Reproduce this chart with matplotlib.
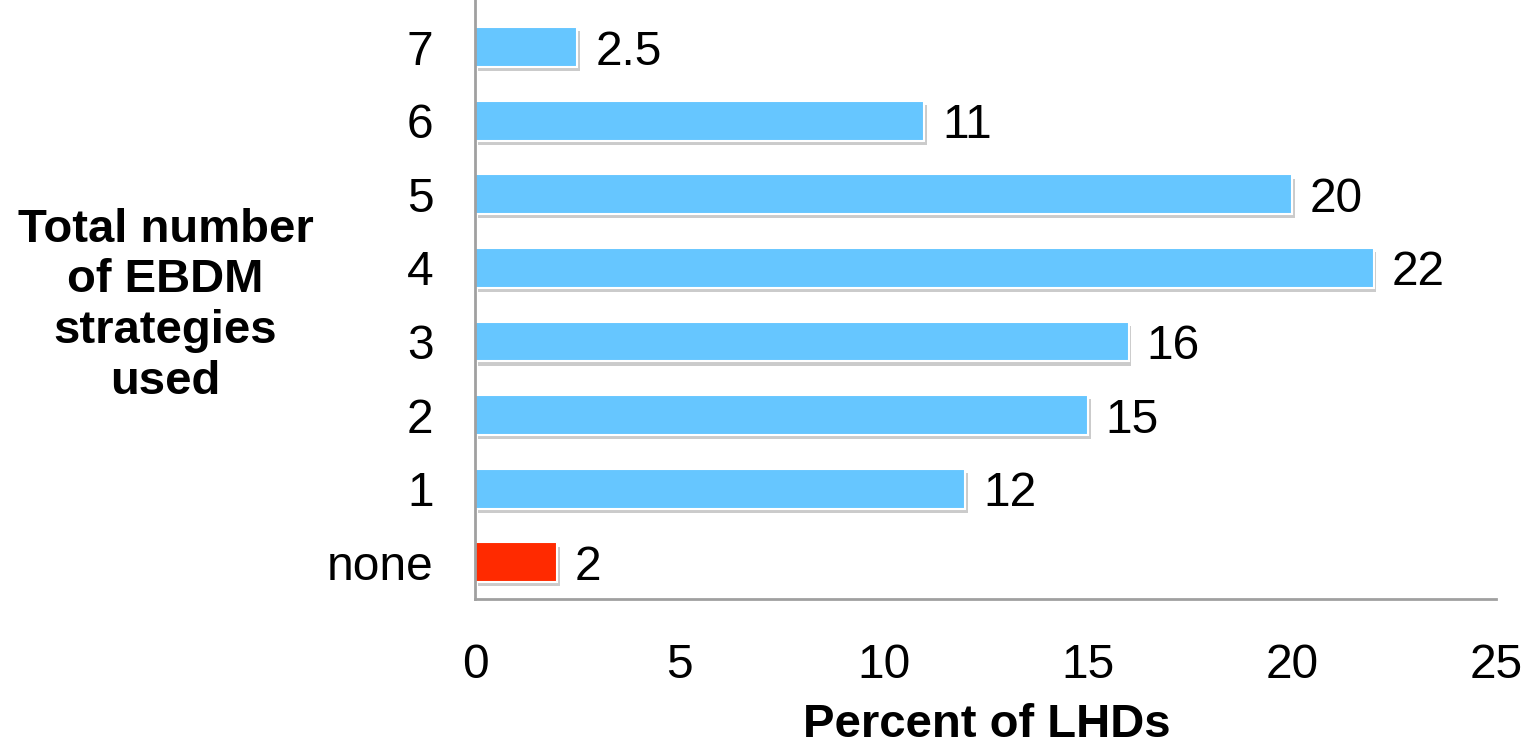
import matplotlib.pyplot as plt
import matplotlib.patheffects as pe

plt.rcParams['font.family'] = ['Liberation Sans', 'DejaVu Sans']

categories = ["none", "1", "2", "3", "4", "5", "6", "7"]
values = [2, 12, 15, 16, 22, 20, 11, 2.5]
value_labels = ["2", "12", "15", "16", "22", "20", "11", "2.5"]
colors = ["#FF2A00"] + ["#66C6FF"] * 7


def main():
    fig = plt.figure(figsize=(15.33, 7.46), dpi=100)
    ax = fig.add_axes([0.31, 0.197, 0.666, 0.803])
    pos = list(range(len(categories)))
    bars = ax.barh(pos, values, height=0.54, color=colors, edgecolor="white", linewidth=1.5)
    for b in bars:
        b.set_path_effects([pe.SimplePatchShadow(offset=(2, -3), shadow_rgbFace="#999999", alpha=0.5),
                            pe.Normal()])
    for p, v, lab in zip(pos, values, value_labels):
        ax.annotate(lab, (v, p), xytext=(13, 0), textcoords="offset points",
                    va="center_baseline", ha="left", fontsize=34.5)
    ax.set_xlim(0, 25)
    ax.set_ylim(-0.5, 7.64)
    ax.set_xticks([0, 5, 10, 15, 20, 25])
    ax.set_yticks(pos)
    ax.set_yticklabels(categories)
    ax.tick_params(axis="both", length=0, labelsize=34.5)
    ax.tick_params(axis="y", pad=30)
    ax.tick_params(axis="x", pad=32)
    for s in ["top", "right"]:
        ax.spines[s].set_visible(False)
    for s in ["left", "bottom"]:
        ax.spines[s].set_color("#A0A0A0")
        ax.spines[s].set_linewidth(2)
    fig.text(0.644, 0.012, "Percent of LHDs", ha="center", va="baseline", fontsize=34, fontweight="bold")
    fig.text(0.108, 0.59, "Total number\nof EBDM\nstrategies\nused", ha="center", va="center",
             fontsize=34, fontweight="bold", linespacing=1.2)
    fig.savefig("out.png", dpi=100)


if __name__ == "__main__":
    main()
